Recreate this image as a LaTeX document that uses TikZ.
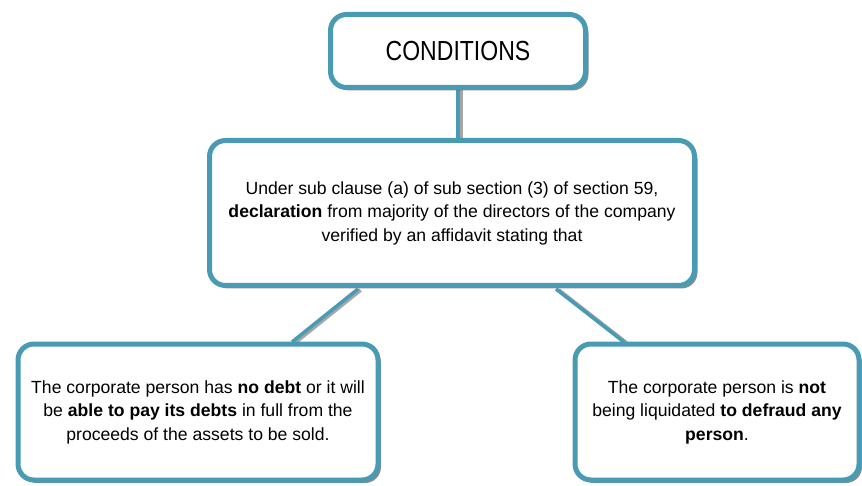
\documentclass[tikz,border=0pt]{standalone}
\usepackage{fontspec}
\setmainfont{Liberation Sans}
\usetikzlibrary{shadows}
\definecolor{teal1}{RGB}{72,155,178}
\tikzset{
  boxstyle/.style={draw=teal1, line width=5pt, fill=white, rounded corners=16pt,
    align=center, inner sep=0pt,
    drop shadow={shadow xshift=3pt, shadow yshift=-3pt, fill=black!60, opacity=0.75}},
  bodytext/.style={font=\fontsize{17.6}{23.5}\selectfont},
  linkshadow/.style={draw=black!50, line width=4pt, opacity=0.7},
  link/.style={draw=teal1, line width=3.5pt}
}
\begin{document}
\begin{tikzpicture}[x=1pt,y=-1pt]
\useasboundingbox (0,0) rectangle (862,486);
% connector end points
\coordinate (c1a) at (458,88);
\coordinate (c1b) at (458,140);
\coordinate (c2a) at (358,289);
\coordinate (c2b) at (292,342);
\coordinate (c3a) at (556,289);
\coordinate (c3b) at (624,342);
\draw[linkshadow] ([xshift=2.5pt]c1a) -- ([xshift=2.5pt]c1b);
\draw[linkshadow] ([xshift=2.5pt,yshift=-1pt]c2a) -- ([xshift=2.5pt,yshift=-1pt]c2b);
\draw[linkshadow] ([xshift=2.5pt,yshift=-1pt]c3a) -- ([xshift=2.5pt,yshift=-1pt]c3b);
\draw[link] (c1a) -- (c1b);
\draw[link] (c2a) -- (c2b);
\draw[link] (c3a) -- (c3b);
\node[boxstyle, minimum width=255pt, minimum height=73pt, font=\fontsize{24}{28}\selectfont] (cond) at (458,51) {\scalebox{0.96}[1.15]{CONDITIONS}};
\node[boxstyle, bodytext, minimum width=485pt, minimum height=145pt] (mid) at (452,213)
  {Under sub clause (a) of sub section (3) of section 59,\\
   \textbf{declaration} from majority of the directors of the company\\
   verified by an affidavit stating that};
\node[boxstyle, bodytext, minimum width=360pt, minimum height=136pt] (left) at (198,412)
  {The corporate person has \textbf{no debt} or it will\\
   be \textbf{able to pay its debts} in full from the\\
   proceeds of the assets to be sold.};
\node[boxstyle, bodytext, minimum width=284pt, minimum height=136pt] (right) at (717,412)
  {The corporate person is \textbf{not}\\
   being liquidated \textbf{to defraud any}\\
   \textbf{person}.};
\end{tikzpicture}
\end{document}
